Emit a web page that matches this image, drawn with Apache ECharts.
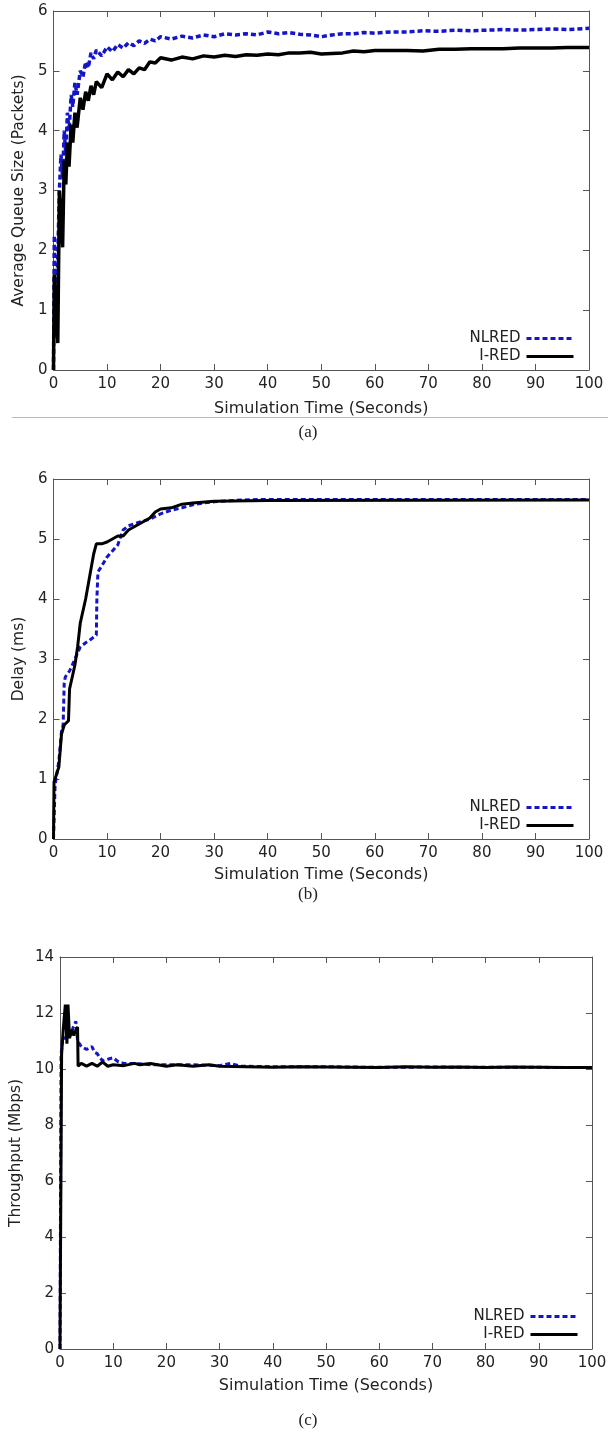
<!DOCTYPE html>
<html>
<head>
<meta charset="utf-8">
<script src="https://cdn.jsdelivr.net/npm/echarts@6/dist/echarts.min.js"></script>
<style>
  html, body { margin: 0; padding: 0; background: #fff; }
  #chart { width: 616px; height: 1433px; }
</style>
</head>
<body>
<div id="chart"></div>
<script>
// (a) average queue size
const queueTime = [0, 0.15, 0.5, 0.8, 1.1, 1.4, 1.7, 2.0, 2.3, 2.6, 2.9, 3.3, 3.6, 4.0, 4.4, 5.0, 5.5, 6, 6.5, 7,
  7.5, 8, 9, 10, 11, 12, 13, 14, 15, 16, 17, 18, 19, 20, 22, 24, 26, 28, 30, 32,
  34, 36, 38, 40, 42, 44, 46, 48, 50, 52, 54, 56, 58, 60, 63, 66, 69, 72, 75, 78,
  81, 84, 87, 90, 93, 96, 100]
const queueNlred = [0, 2.25, 0.9, 1.9, 3.0, 3.6, 3.2, 4.0, 3.6, 4.3, 4.0, 4.6, 4.4, 4.8, 4.6, 5.0, 4.9, 5.15, 5.05, 5.3,
  5.2, 5.35, 5.25, 5.4, 5.32, 5.44, 5.38, 5.47, 5.42, 5.5, 5.46, 5.53, 5.5, 5.57, 5.53, 5.58, 5.55, 5.6, 5.57, 5.62,
  5.6, 5.62, 5.6, 5.65, 5.62, 5.64, 5.61, 5.6, 5.57, 5.6, 5.62, 5.62, 5.64, 5.63, 5.65, 5.65, 5.67, 5.66, 5.68, 5.67,
  5.68, 5.69, 5.68, 5.69, 5.7, 5.69, 5.71]
const queueIred = [0, 1.6, 0.9, 0.45, 3.0, 2.6, 2.05, 3.5, 3.1, 3.8, 3.4, 4.1, 3.8, 4.3, 4.05, 4.55, 4.35, 4.65, 4.5, 4.75,
  4.6, 4.82, 4.72, 4.95, 4.85, 4.98, 4.9, 5.02, 4.95, 5.05, 5.02, 5.15, 5.13, 5.22, 5.18, 5.23, 5.2, 5.25, 5.23, 5.26,
  5.24, 5.27, 5.26, 5.28, 5.27, 5.3, 5.3, 5.31, 5.28, 5.29, 5.3, 5.33, 5.32, 5.34, 5.34, 5.34, 5.33, 5.36, 5.36, 5.37,
  5.37, 5.37, 5.38, 5.38, 5.38, 5.39, 5.39]

// (b) delay
const delayNlredTime = [0, 0.3, 1, 1.5, 1.8, 2, 2.2, 3, 3.5, 4, 5, 6, 7, 8, 8.1, 8.3, 9, 10, 11, 12,
  13, 14, 16, 18, 20, 22, 24, 26, 28, 30, 35, 40, 100]
const delayNlred = [0, 0.9, 1.3, 1.8, 1.9, 2.6, 2.7, 2.8, 2.9, 3.0, 3.2, 3.27, 3.33, 3.4, 4.0, 4.45, 4.55, 4.7, 4.8, 4.9,
  5.15, 5.22, 5.28, 5.33, 5.42, 5.48, 5.52, 5.57, 5.6, 5.62, 5.65, 5.66, 5.66]
const delayIredTime = [0, 0.1, 1, 1.5, 2, 2.8, 3, 4, 4.5, 5, 6, 6.8, 7.5, 8, 9, 10, 11, 12, 13, 14,
  16, 18, 19, 20, 22, 24, 26, 30, 40, 100]
const delayIred = [0, 0.95, 1.2, 1.75, 1.9, 1.97, 2.5, 2.9, 3.2, 3.6, 4.0, 4.4, 4.75, 4.92, 4.92, 4.95, 5.0, 5.05, 5.05, 5.15,
  5.25, 5.35, 5.45, 5.5, 5.52, 5.58, 5.6, 5.63, 5.64, 5.65]

// (c) throughput
const thrNlredTime = [0, 0.2, 0.5, 1, 1.5, 2, 2.5, 3, 3.3, 4, 5, 6, 6.5, 7, 7.5, 8, 9, 10, 11, 12,
  14, 17, 20, 25, 30, 32, 34, 40, 50, 60, 70, 80, 90, 100]
const thrNlred = [0, 10.5, 11.1, 11.1, 11.3, 11.2, 11.5, 11.7, 11.0, 10.8, 10.7, 10.8, 10.6, 10.55, 10.4, 10.3, 10.35, 10.4, 10.25, 10.2,
  10.2, 10.15, 10.15, 10.15, 10.12, 10.2, 10.1, 10.08, 10.08, 10.06, 10.07, 10.06, 10.06, 10.05]
const thrIredTime = [0, 0.3, 0.6, 1.0, 1.3, 1.5, 1.8, 2.2, 2.6, 3.0, 3.3, 3.4, 4, 5, 6, 7, 8, 9, 10, 12,
  14, 15, 17, 20, 22, 25, 28, 30, 35, 40, 45, 50, 55, 60, 65, 70, 75, 80, 85, 90,
  95, 100]
const thrIred = [0, 10.5, 11.4, 12.3, 10.9, 12.3, 11.1, 11.4, 11.2, 11.4, 11.5, 10.1, 10.2, 10.1, 10.2, 10.1, 10.25, 10.1, 10.15, 10.12,
  10.2, 10.15, 10.2, 10.1, 10.15, 10.1, 10.15, 10.1, 10.08, 10.06, 10.08, 10.07, 10.06, 10.05, 10.08, 10.06, 10.07, 10.05, 10.07, 10.06,
  10.05, 10.05]

const xTitle = 'Simulation Time (Seconds)'
const seriesNames = ['NLRED', 'I-RED']

const FONT = 'DejaVu Sans'
const TEXT = '#222'
const FRAME = '#555'
const BLUE = '#1414c8'

const zip = (xs, ys) => xs.map((x, i) => [x, ys[i]])

const panels = [
  {
    grid: { left: 53.5, top: 11, width: 535.5, height: 359 },
    yMax: 6, yInterval: 1, yName: 'Average Queue Size (Packets)', yGap: 18, xGap: 31,
    legend: { top: 331, right: 41 }, lineWidth: 3.5,
    nlred: zip(queueTime, queueNlred),
    ired: zip(queueTime, queueIred),
  },
  {
    grid: { left: 53.5, top: 479, width: 535.5, height: 360 },
    yMax: 6, yInterval: 1, yName: 'Delay (ms)', yGap: 18, xGap: 28,
    legend: { top: 800, right: 41 }, lineWidth: 3,
    nlred: zip(delayNlredTime, delayNlred),
    ired: zip(delayIredTime, delayIred),
  },
  {
    grid: { left: 60, top: 957, width: 532, height: 392 },
    yMax: 14, yInterval: 2, yName: 'Throughput (Mbps)', yGap: 23, xGap: 29,
    legend: { top: 1309, right: 37 }, lineWidth: 3,
    nlred: zip(thrNlredTime, thrNlred),
    ired: zip(thrIredTime, thrIred),
  },
]

const frameLine = { show: true, onZero: false, lineStyle: { color: FRAME, width: 1 } }
const inTick = { show: true, inside: true, length: 6, lineStyle: { color: FRAME } }

const grid = [], xAxis = [], yAxis = [], series = [], legend = []
panels.forEach((p, i) => {
  grid.push(p.grid)
  xAxis.push({
    type: 'value', gridIndex: i, position: 'bottom', min: 0, max: 100, interval: 10,
    name: xTitle, nameLocation: 'middle', nameGap: p.xGap,
    nameTextStyle: { fontFamily: FONT, fontSize: 16, color: TEXT },
    axisLine: frameLine, axisTick: inTick,
    axisLabel: { fontFamily: FONT, fontSize: 15, color: TEXT, margin: 7 },
    splitLine: { show: false },
  })
  xAxis.push({
    type: 'value', gridIndex: i, position: 'top', min: 0, max: 100, interval: 10,
    axisLine: frameLine, axisTick: inTick, axisLabel: { show: false }, splitLine: { show: false },
  })
  yAxis.push({
    type: 'value', gridIndex: i, position: 'left', min: 0, max: p.yMax, interval: p.yInterval,
    name: p.yName, nameLocation: 'middle', nameGap: p.yGap,
    nameTextStyle: { fontFamily: FONT, fontSize: 15.5, color: TEXT },
    axisLine: frameLine, axisTick: inTick,
    axisLabel: { fontFamily: FONT, fontSize: 15, color: TEXT, margin: 6 },
    splitLine: { show: false },
  })
  yAxis.push({
    type: 'value', gridIndex: i, position: 'right', min: 0, max: p.yMax, interval: p.yInterval,
    axisLine: frameLine, axisTick: inTick, axisLabel: { show: false }, splitLine: { show: false },
  })
  series.push({
    name: seriesNames[0], type: 'line', xAxisIndex: 2 * i, yAxisIndex: 2 * i,
    data: p.nlred, symbol: 'none', z: 2,
    lineStyle: { color: BLUE, width: p.lineWidth, type: [5, 3] },
    itemStyle: { color: BLUE },
  })
  series.push({
    name: seriesNames[1], type: 'line', xAxisIndex: 2 * i, yAxisIndex: 2 * i,
    data: p.ired, symbol: 'none', z: 3,
    lineStyle: { color: '#000', width: p.lineWidth },
    itemStyle: { color: '#000' },
  })
  legend.push({
    top: p.legend.top, right: p.legend.right, orient: 'vertical', align: 'right',
    padding: 0, itemGap: 3, itemWidth: 47, itemHeight: 14, selectedMode: false,
    itemStyle: { opacity: 0 },
    lineStyle: { width: 3 },
    textStyle: { fontFamily: FONT, fontSize: 15, color: TEXT, padding: [0, 1, 0, 0] },
    data: seriesNames,
  })
})

const captions = [['(a)', 424], ['(b)', 886], ['(c)', 1412]]

const chart = echarts.init(document.getElementById('chart'))
chart.setOption({
  animation: false,
  backgroundColor: '#fff',
  grid, xAxis, yAxis, series, legend,
  graphic: [
    {
      type: 'line', shape: { x1: 12, y1: 417.5, x2: 608, y2: 417.5 },
      style: { stroke: '#bbb', lineWidth: 1 },
    },
    ...captions.map(([t, top]) => ({
      type: 'text', left: 'center', top,
      style: { text: t, font: '17px "Liberation Serif"', fill: TEXT },
    })),
  ],
})
</script>
</body>
</html>
